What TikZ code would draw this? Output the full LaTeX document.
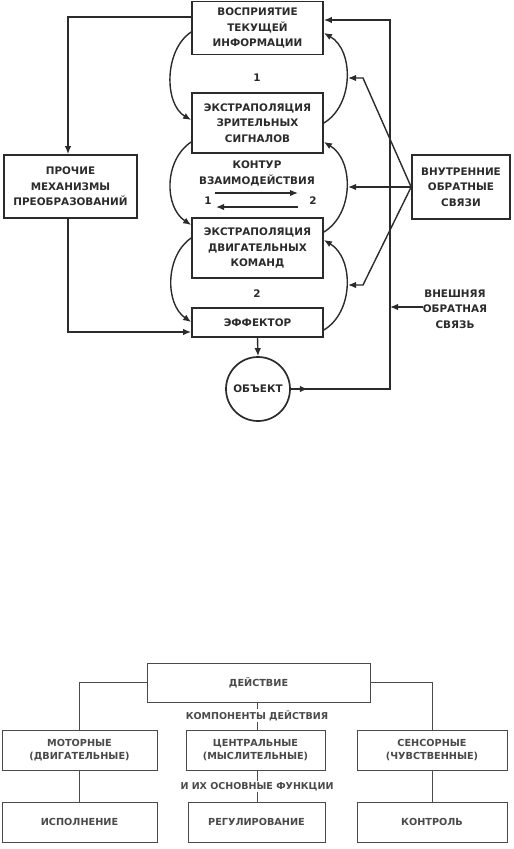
\documentclass[tikz,border=0pt]{standalone}
\usepackage{fontspec}
\setmainfont{DejaVu Sans}
\usetikzlibrary{arrows.meta}
\definecolor{ink}{HTML}{2B2B2B}
\definecolor{inkb}{HTML}{4A4A4A}
\begin{document}
\begin{tikzpicture}[x=1pt,y=-1pt,
  tbox/.style={draw=ink, line width=1.7pt, align=center, text=ink, inner sep=0pt,
    font=\fontsize{10.4}{15.5}\selectfont\bfseries},
  ttext/.style={align=center, text=ink, inner sep=0pt,
    font=\fontsize{10.4}{15.5}\selectfont\bfseries},
  bbox/.style={draw=inkb, line width=0.9pt, align=center, text=inkb, inner sep=0pt,
    minimum height=40pt, font=\fontsize{9.7}{13}\selectfont\bfseries},
  btext/.style={align=center, text=inkb, inner sep=1pt, fill=white,
    font=\fontsize{9.5}{13}\selectfont\bfseries},
  conn/.style={draw=ink, line width=1.4pt},
  arr/.style={conn, -{Latex[length=8pt,width=6.5pt]}},
  bline/.style={draw=inkb, line width=0.9pt}
]
\useasboundingbox (0,0) rectangle (514,849);
\fill[white] (0,0) rectangle (514,849);

% ---- top diagram ----
\node[tbox, minimum width=131pt, minimum height=53pt] (b1) at (257.5,28) {ВОСПРИЯТИЕ\\ТЕКУЩЕЙ\\ИНФОРМАЦИИ};
\node[tbox, minimum width=131pt, minimum height=60pt] (b2) at (257.5,123) {ЭКСТРАПОЛЯЦИЯ\\ЗРИТЕЛЬНЫХ\\СИГНАЛОВ};
\node[tbox, minimum width=131pt, minimum height=60pt] (b3) at (257.5,248) {ЭКСТРАПОЛЯЦИЯ\\ДВИГАТЕЛЬНЫХ\\КОМАНД};
\node[tbox, minimum width=131pt, minimum height=29pt] (b4) at (257.5,322.5) {ЭФФЕКТОР};
\node[tbox, circle, minimum size=64pt] (obj) at (258,389) {ОБЪЕКТ};
\node[tbox, minimum width=133pt, minimum height=63pt] (pr) at (70.5,186.5) {ПРОЧИЕ\\МЕХАНИЗМЫ\\ПРЕОБРАЗОВАНИЙ};
\node[tbox, minimum width=98pt, minimum height=64pt] (vn) at (461,187) {ВНУТРЕННИЕ\\ОБРАТНЫЕ\\СВЯЗИ};
\node[ttext] (ext) at (455,309) {ВНЕШНЯЯ\\ОБРАТНАЯ\\СВЯЗЬ};
\node[ttext] (kt) at (257,173.5) {КОНТУР\\ВЗАИМОДЕЙСТВИЯ};
\node[ttext] (n1) at (257,78) {1};
\node[ttext] (n2) at (257,294) {2};
\node[ttext] (k1) at (208,201) {1};
\node[ttext] (k2) at (313,201) {2};

% contour arrows
\coordinate (ka) at (215,193);
\coordinate (kb) at (298,193);
\coordinate (kc) at (298,207);
\coordinate (kd) at (216,207);
\draw[arr] (ka) -- (kb);
\draw[arr] (kc) -- (kd);

% loops
\draw[arr] ([yshift=-4pt]b1.west) .. controls (164,50) and (164,104) .. ([yshift=3pt]b2.west);
\draw[arr] (b2.east) .. controls (354,105) and (354,50) .. ([yshift=-5pt]b1.east);
\draw[arr] ([yshift=-19pt]b2.west) .. controls (164,160) and (164,207) .. ([yshift=23pt]b3.west);
\draw[arr] ([yshift=16pt]b3.east) .. controls (354,214) and (354,160) .. ([yshift=-19pt]b2.east);
\draw[arr] ([yshift=10pt]b3.west) .. controls (165,256) and (165,304) .. ([yshift=0.5pt]b4.west);
\draw[arr] ([yshift=-7.5pt]b4.east) .. controls (354,312) and (354,258) .. ([yshift=8pt]b3.east);

% left branch
\draw[arr] ([yshift=11pt]b1.west) -| ([xshift=-2.5pt]pr.north);
\draw[arr] ([xshift=-2.5pt]pr.south) |- ([yshift=-9.5pt]b4.west);

% effector to object
\draw[arr] (b4.south) -- (obj.north);

% external feedback
\coordinate (tr) at (390,20);
\draw[arr] (obj.east) -| (tr) -- (tr -| b1.east);
\draw[arr] (obj.east) -- ++(17,0);
\draw[arr] ([yshift=2pt]ext.west) -- ([yshift=2pt]ext.west -| tr);

% internal feedback
\coordinate (h1) at (348,78);
\coordinate (h2) at (348,187);
\coordinate (h3) at (348,285);
\draw[arr] (vn.west) -- (363,78) -- (h1);
\draw[arr] (vn.west) -- (h2);
\draw[arr] (vn.west) -- (363,285) -- (h3);

% ---- bottom diagram ----
\node[bbox, minimum width=223pt, minimum height=39pt] (d) at (258.5,682.5) {ДЕЙСТВИЕ};
\node[bbox, minimum width=155pt] (m) at (79.5,750) {МОТОРНЫЕ\\(ДВИГАТЕЛЬНЫЕ)};
\node[bbox, minimum width=139pt] (c) at (255.5,750) {ЦЕНТРАЛЬНЫЕ\\(МЫСЛИТЕЛЬНЫЕ)};
\node[bbox, minimum width=150pt] (s) at (432,750) {СЕНСОРНЫЕ\\(ЧУВСТВЕННЫЕ)};
\node[bbox, minimum width=155pt] (i) at (79.5,822) {ИСПОЛНЕНИЕ};
\node[bbox, minimum width=137pt] (r) at (256.5,822) {РЕГУЛИРОВАНИЕ};
\node[bbox, minimum width=150pt] (k) at (432,822) {КОНТРОЛЬ};
\node[btext] (ct) at (257,715.5) {КОМПОНЕНТЫ ДЕЙСТВИЯ};
\node[btext] (ft) at (257,786.5) {И ИХ ОСНОВНЫЕ ФУНКЦИИ};

\draw[bline] (d.west) -| (m.north);
\draw[bline] (d.east) -| (s.north);
\draw[bline] (ct.north |- d.south) -- (ct.north);
\draw[bline] (ct.south) -- (ct.south |- c.north);
\draw[bline] (ft.north |- c.south) -- (ft.north);
\draw[bline] (ft.south) -- (ft.south |- r.north);
\draw[bline] (m.south) -- (i.north);
\draw[bline] (s.south) -- (k.north);
\end{tikzpicture}
\end{document}
